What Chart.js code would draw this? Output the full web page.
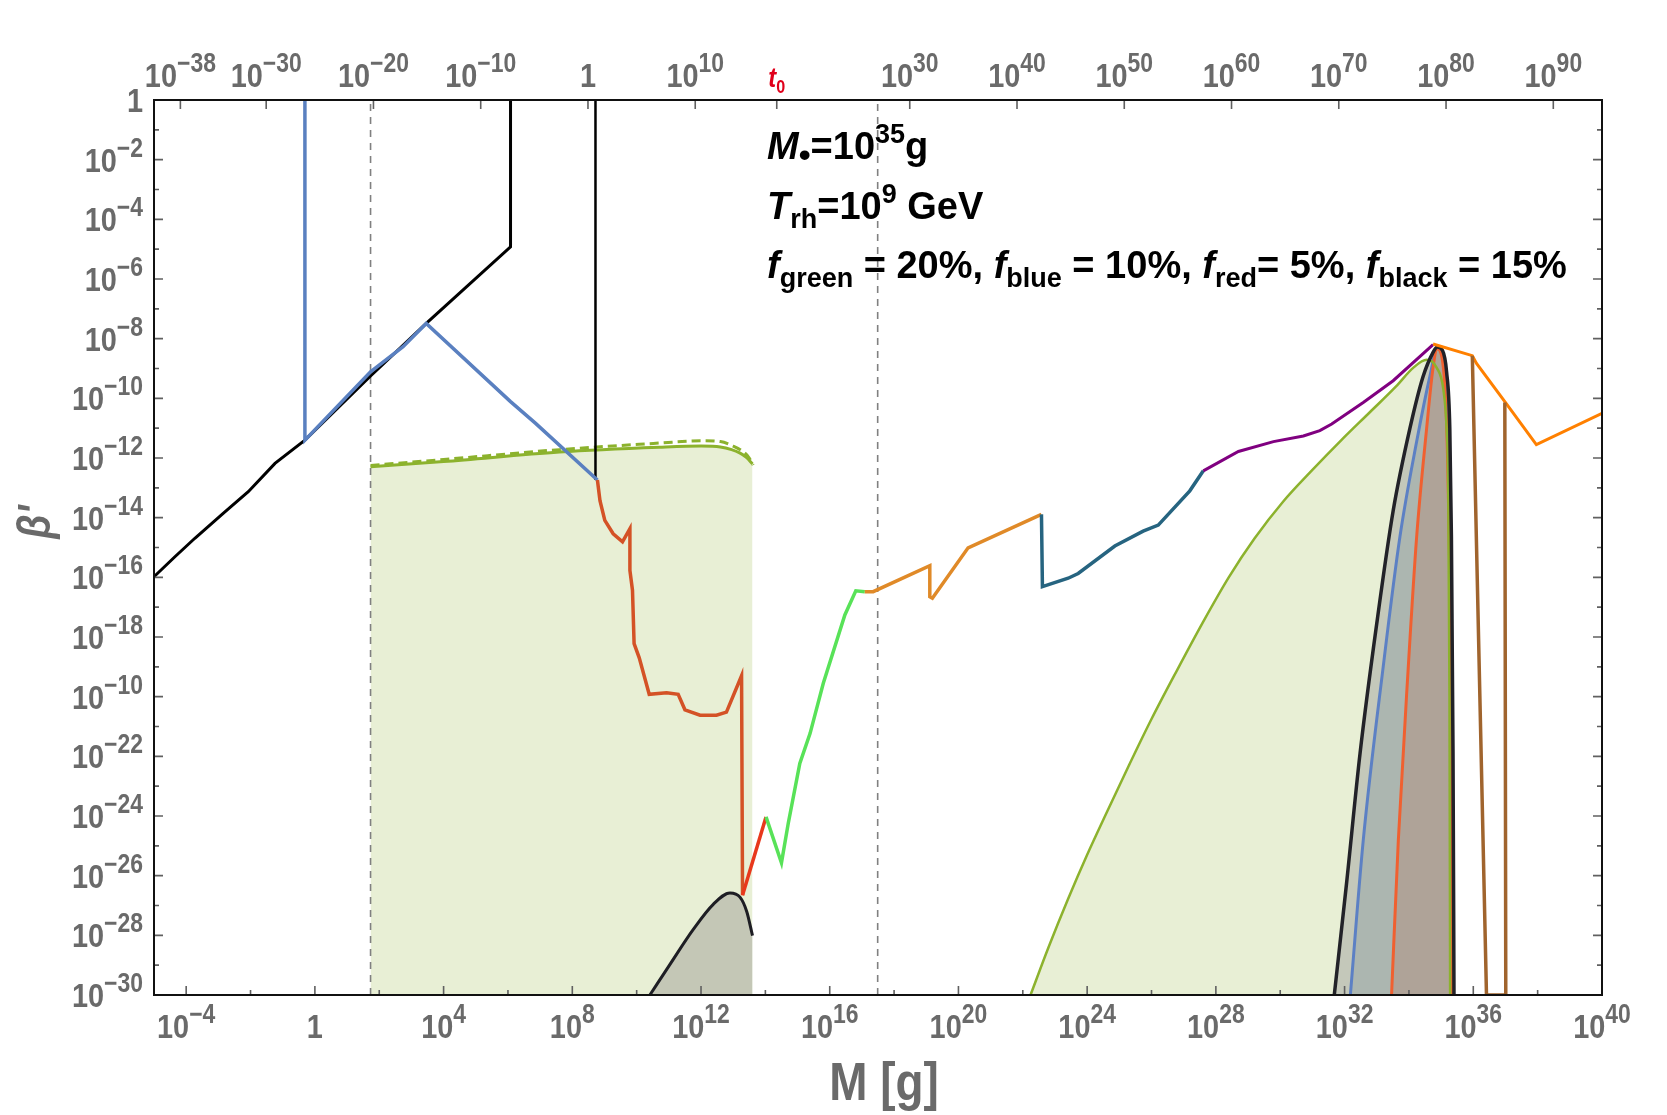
<!DOCTYPE html>
<html>
<head>
<meta charset="utf-8">
<script src="https://cdn.jsdelivr.net/npm/chart.js@4.4.1/dist/chart.umd.min.js"></script>
<style>
html,body{margin:0;padding:0;background:#fff;}
#wrap{width:1667px;height:1115px;}
</style>
</head>
<body>
<div id="wrap"><canvas id="c" width="1667" height="1115"></canvas></div>
<script>
// ---------------- axis ticks ----------------
const xTickExps = [-4, 0, 4, 8, 12, 16, 20, 24, 28, 32, 36, 40];
const xTickLabels = ['10^−4', '1', '10^4', '10^8', '10^12', '10^16', '10^20', '10^24', '10^28', '10^32', '10^36', '10^40'];
const xMinorTickExps = [-2, 2, 6, 10, 14, 18, 22, 26, 30, 34, 38];
const yTickExps = [0, -2, -4, -6, -8, -10, -12, -14, -16, -18, -20, -22, -24, -26, -28, -30];
const yTickLabels = ['1', '10^−2', '10^−4', '10^−6', '10^−8', '10^−10', '10^−12', '10^−14', '10^−16', '10^−18', '10^−10', '10^−22', '10^−24', '10^−26', '10^−28', '10^−30'];
const yMinorTickExps = [-1, -3, -5, -7, -9, -11, -13, -15, -17, -19, -21, -23, -25, -27, -29];
const topTickExps = [-38, -30, -20, -10, 0, 10, 17.6, 30, 40, 50, 60, 70, 80, 90];
const topTickLabels = ['10^−38', '10^−30', '10^−20', '10^−10', '1', '10^10', 't_0', '10^30', '10^40', '10^50', '10^60', '10^70', '10^80', '10^90'];
const topAxisMinExp = -40.46, topAxisMaxExp = 94.54;

// ---------------- series (log10 M [g], log10 beta') ----------------
const blackDiagM = [-5, -4.35, -3.73, -2.85, -2.07, -1.24, -0.31, 1.73, 3.46, 6.08, 6.08];
const blackDiagB = [-15.98, -15.31, -14.69, -13.86, -13.13, -12.18, -11.40, -9.25, -7.49, -4.92, 0];
const blackVertM = [8.72, 8.72];
const blackVertB = [0, -12.74];
const blueM = [-0.31, -0.31, 1.73, 2.74, 3.46, 6.08, 6.86, 8.78];
const blueB = [0, -11.40, -9.11, -8.27, -7.49, -10.11, -10.84, -12.74];
const greenSolidM = [1.73, 4.0, 7.6, 10.7, 12.0, 12.6, 12.95, 13.2, 13.41, 13.6];
const greenSolidB = [-12.29, -12.12, -11.8, -11.64, -11.6, -11.63, -11.72, -11.83, -11.98, -12.2];
const greenDashM = [1.73, 4.0, 7.6, 10.7, 12.0, 12.6, 13.0, 13.3, 13.5, 13.62];
const greenDashB = [-12.25, -12.05, -11.72, -11.5, -11.42, -11.45, -11.6, -11.78, -12.0, -12.24];
const redM = [8.78, 8.86, 9.01, 9.27, 9.56, 9.79, 9.79, 9.87, 9.92, 10.08, 10.39, 10.93, 11.29, 11.50, 11.97, 12.48, 12.79, 13.26, 13.29];
const redB = [-12.74, -13.43, -14.09, -14.54, -14.81, -14.37, -15.77, -16.43, -18.22, -18.70, -19.92, -19.87, -19.92, -20.44, -20.62, -20.62, -20.52, -19.30, -26.66];
const red2M = [13.29, 14.02];
const red2B = [-26.66, -24.03];
const brightGreenM = [14.02, 14.50, 14.71, 15.07, 15.39, 15.80, 16.47, 16.81, 17.09];
const brightGreenB = [-24.03, -25.57, -24.25, -22.24, -21.23, -19.55, -17.26, -16.45, -16.48];
const orangeM = [17.09, 17.35, 19.11, 19.11, 19.19, 20.30, 22.58];
const orangeB = [-16.48, -16.48, -15.61, -16.65, -16.70, -15.01, -13.89];
const tealM = [22.58, 22.61, 23.41, 23.72, 24.86, 25.74, 26.21, 27.19, 27.61];
const tealB = [-13.89, -16.31, -16.03, -15.87, -14.95, -14.45, -14.25, -13.10, -12.43];
const purpleM = [27.61, 28.70, 29.79, 30.72, 31.23, 31.60, 32.58, 33.51, 34.75];
const purpleB = [-12.43, -11.78, -11.45, -11.26, -11.08, -10.86, -10.14, -9.41, -8.20];
const orangeRightM = [34.75, 35.97, 36.10, 36.98, 37.96, 40.0];
const orangeRightB = [-8.18, -8.57, -8.83, -10.11, -11.55, -10.50];
const brownM = [35.97, 36.41, 37.01, 36.98];
const brownB = [-8.57, -30, -30, -10.14];
const bumpM = [10.41, 11.03, 11.76, 12.38, 12.90, 13.21, 13.42, 13.60];
const bumpB = [-30, -28.98, -27.80, -26.96, -26.58, -26.72, -27.2, -28.01];
const parabolaM = [22.24, 22.8, 23.4, 24.0, 24.6, 25.3, 26.0, 26.8, 27.6, 28.4, 29.2, 30.1, 31.0, 31.9, 32.8, 33.6, 34.14, 34.55, 34.86, 35.07, 35.17, 35.22, 35.26, 35.28];
const parabolaB = [-30, -28.4, -26.8, -25.3, -23.9, -22.3, -20.75, -19.1, -17.5, -16.0, -14.7, -13.45, -12.4, -11.4, -10.45, -9.6, -8.97, -8.71, -8.97, -9.70, -11.01, -13.0, -20.0, -30];
const peakBlackM = [31.68, 32.06, 32.48, 33.00, 33.51, 34.03, 34.44, 34.75, 34.88, 35.04, 35.17, 35.27, 35.32, 35.37, 35.40];
const peakBlackB = [-30, -26.27, -21.91, -17.55, -13.77, -11.01, -9.27, -8.46, -8.28, -8.39, -9.11, -11.01, -14.64, -21.91, -30];
const peakBlueM = [32.18, 32.58, 33.20, 33.72, 34.24, 34.65, 34.88, 35.07, 35.22, 35.30, 35.32];
const peakBlueB = [-30, -24.82, -19.0, -14.64, -11.45, -9.27, -8.35, -8.83, -11.73, -19.0, -30];
const peakRedM = [33.46, 33.67, 33.98, 34.24, 34.55, 34.75, 34.88, 35.07, 35.22, 35.32, 35.35];
const peakRedB = [-30, -24.82, -19.0, -14.64, -11.01, -8.97, -8.35, -8.97, -13.0, -21.9, -30];
const dashLineM = [1.73, 17.49];

// ---------------- helpers ----------------
const FAM = '"Liberation Sans", Arial, Helvetica, sans-serif';
const SX = 0.85;
const pts = (ms, bs) => ms.map((m, i) => ({ x: Math.pow(10, m), y: Math.pow(10, bs[i]) }));
function line(label, ms, bs, color, width, order, extra) {
  return Object.assign({
    label, data: pts(ms, bs), borderColor: color, borderWidth: width,
    pointRadius: 0, fill: false, tension: 0, order
  }, extra || {});
}
const BOTTOM = { value: 1e-30 };
const smooth = { cubicInterpolationMode: 'monotone' };

const datasets = [
  line('brown', brownM, brownB, 'rgb(160,100,45)', 3.5, 1),
  line('orange right', orangeRightM, orangeRightB, 'rgb(255,128,0)', 3, 1),
  line('purple', purpleM, purpleB, 'rgb(128,0,128)', 3, 1),
  line('teal', tealM, tealB, 'rgb(38,100,128)', 3.5, 1),
  line('orange', orangeM, orangeB, 'rgb(224,138,40)', 3.5, 1),
  line('bright green', brightGreenM, brightGreenB, 'rgb(88,226,88)', 3.5, 1),
  line('red', red2M, red2B, 'rgb(232,56,28)', 3.5, 1),
  line('orange-red', redM, redB, 'rgb(212,82,38)', 3.5, 1),
  line('blue', blueM, blueB, 'rgb(90,128,192)', 3.5, 2),
  line('black diagonal', blackDiagM, blackDiagB, '#000', 3, 3),
  line('black vertical', blackVertM, blackVertB, '#000', 2.5, 3),
  line('green band', greenSolidM, greenSolidB, 'rgb(140,178,45)', 3, 4, smooth),
  line('green band dashed', greenDashM, greenDashB, 'rgb(140,178,45)', 3, 4, Object.assign({ borderDash: [9, 5] }, smooth)),
  line('bump', bumpM, bumpB, 'rgb(30,30,36)', 3, 5, Object.assign({ fill: BOTTOM, backgroundColor: 'rgb(196,199,182)' }, smooth)),
  line('peak outline', peakBlackM, peakBlackB, 'rgb(34,34,40)', 3.5, 5, smooth),
  line('parabola line', parabolaM, parabolaB, 'rgb(140,178,45)', 2.5, 6, smooth),
  line('peak red', peakRedM, peakRedB, 'rgb(240,96,48)', 3, 7, Object.assign({ fill: BOTTOM, backgroundColor: 'rgb(175,163,152)' }, smooth)),
  line('peak blue', peakBlueM, peakBlueB, 'rgb(92,128,196)', 3, 8, Object.assign({ fill: BOTTOM, backgroundColor: 'rgb(172,182,176)' }, smooth)),
  line('peak black fill', peakBlackM, peakBlackB, 'rgba(0,0,0,0)', 0, 9, Object.assign({ fill: BOTTOM, backgroundColor: 'rgb(196,200,186)' }, smooth)),
  ...dashLineM.map(m => line('t line', [m, m], [-30, 0], 'rgb(128,128,128)', 1.6, 10, { borderDash: [7, 6] })),
  line('parabola fill', parabolaM, parabolaB, 'rgba(0,0,0,0)', 0, 11, Object.assign({ fill: BOTTOM, backgroundColor: 'rgb(232,239,213)' }, smooth)),
  line('green band fill', greenSolidM, greenSolidB, 'rgba(0,0,0,0)', 0, 12, Object.assign({ fill: BOTTOM, backgroundColor: 'rgb(232,239,213)' }, smooth))
];

// ---------------- rich text drawing ----------------
function font(size, italic) { return (italic ? 'italic ' : '') + 'bold ' + size + 'px ' + FAM; }
function segW(ctx, s) { ctx.font = s.font; return ctx.measureText(s.text).width * (s.sx || SX); }
function drawSegs(ctx, segs, x, y, align, color) {
  let w = 0;
  segs.forEach(s => { w += segW(ctx, s); });
  let cx = align === 'center' ? x - w / 2 : (align === 'right' ? x - w : x);
  segs.forEach(s => {
    ctx.font = s.font;
    ctx.fillStyle = s.color || color;
    ctx.save();
    ctx.translate(cx, y + (s.dy || 0));
    ctx.scale(s.sx || SX, 1);
    ctx.textAlign = 'left';
    ctx.textBaseline = 'alphabetic';
    ctx.fillText(s.text, 0, 0);
    ctx.restore();
    cx += segW(ctx, s);
  });
}
function tickSegs(label) {
  const i = label.indexOf('^');
  if (label.indexOf('_') >= 0) {
    const p = label.split('_');
    return [{ text: p[0], font: font(28, true), color: '#e0001b' }, { text: p[1], font: font(19, false), dy: 6, color: '#e0001b' }];
  }
  if (i < 0) return [{ text: label, font: font(34) }];
  return [{ text: label.slice(0, i), font: font(34) }, { text: label.slice(i + 1), font: font(27), dy: -15 }];
}
function ann(parts) {
  // parts: [text, kind] kind: n normal, i italic, b sub, p sup, d bullet
  return parts.map(([t, k]) => {
    if (k === 'i') return { text: t, font: font(38, true), sx: 1 };
    if (k === 'b') return { text: t, font: font(27), dy: 9, sx: 1 };
    if (k === 'd') return { text: t, font: font(34), dy: 7, sx: 1 };
    if (k === 'p') return { text: t, font: font(27), dy: -16, sx: 1 };
    return { text: t, font: font(38), sx: 1 };
  });
}

const decor = {
  id: 'decor',
  afterDatasetsDraw(chart) {
    const { ctx, chartArea: a, scales } = chart;
    const xs = scales.x, ys = scales.y, xt = scales.xTop;
    ctx.save();
    // ticks
    ctx.strokeStyle = '#606060';
    ctx.lineWidth = 1.6;
    ctx.beginPath();
    yTickExps.concat(yMinorTickExps).forEach(e => {
      const y = ys.getPixelForValue(Math.pow(10, e));
      const len = (yTickExps.indexOf(e) >= 0) ? 9 : 5;
      ctx.moveTo(a.left, y); ctx.lineTo(a.left + len, y);
      ctx.moveTo(a.right, y); ctx.lineTo(a.right - len, y);
    });
    xTickExps.concat(xMinorTickExps).forEach(e => {
      const x = xs.getPixelForValue(Math.pow(10, e));
      const len = (xTickExps.indexOf(e) >= 0) ? 9 : 5;
      ctx.moveTo(x, a.bottom); ctx.lineTo(x, a.bottom - len);
    });
    topTickExps.forEach(e => {
      const x = xt.getPixelForValue(Math.pow(10, e));
      ctx.moveTo(x, a.top); ctx.lineTo(x, a.top + 9);
    });
    ctx.stroke();
    // frame
    ctx.strokeStyle = '#111';
    ctx.lineWidth = 2;
    ctx.strokeRect(a.left, a.top, a.right - a.left, a.bottom - a.top);
    // tick labels
    const gray = '#6a6a6a';
    yTickExps.forEach((e, i) => {
      const y = ys.getPixelForValue(Math.pow(10, e));
      drawSegs(ctx, tickSegs(yTickLabels[i]), a.left - 11, y + 12, 'right', gray);
    });
    xTickExps.forEach((e, i) => {
      const x = xs.getPixelForValue(Math.pow(10, e));
      drawSegs(ctx, tickSegs(xTickLabels[i]), x, a.bottom + 43, 'center', gray);
    });
    topTickExps.forEach((e, i) => {
      const x = xt.getPixelForValue(Math.pow(10, e));
      drawSegs(ctx, tickSegs(topTickLabels[i]), x, a.top - 13, 'center', gray);
    });
    // axis titles
    drawSegs(ctx, [{ text: 'M [g]', font: font(54) }], (a.left + a.right) / 2 + 6, 1100, 'center', gray);
    ctx.save();
    ctx.translate(50, 522);
    ctx.rotate(-Math.PI / 2);
    drawSegs(ctx, [{ text: 'β\'', font: font(46, true) }], 0, 0, 'center', gray);
    ctx.restore();
    // annotation
    const k = '#000';
    drawSegs(ctx, ann([['M', 'i'], ['•', 'd'], ['=10', 'n'], ['35', 'p'], ['g', 'n']]), 767, 159, 'left', k);
    drawSegs(ctx, ann([['T', 'i'], ['rh', 'b'], ['=10', 'n'], ['9', 'p'], [' GeV', 'n']]), 767, 219, 'left', k);
    drawSegs(ctx, ann([
      ['f', 'i'], ['green', 'b'], [' = 20%, ', 'n'],
      ['f', 'i'], ['blue', 'b'], [' = 10%, ', 'n'],
      ['f', 'i'], ['red', 'b'], ['= 5%, ', 'n'],
      ['f', 'i'], ['black', 'b'], [' = 15%', 'n']
    ]), 767, 278, 'left', k);
    ctx.restore();
  }
};

new Chart(document.getElementById('c'), {
  type: 'line',
  data: { datasets },
  options: {
    responsive: false,
    devicePixelRatio: 1,
    animation: false,
    events: [],
    layout: { padding: { left: 154, right: 65, top: 100, bottom: 120 } },
    plugins: { legend: { display: false }, tooltip: { enabled: false } },
    scales: {
      x: { type: 'logarithmic', min: 1e-5, max: 1e40, display: false },
      y: { type: 'logarithmic', min: 1e-30, max: 1, display: false },
      xTop: { type: 'logarithmic', axis: 'x', position: 'top', min: Math.pow(10, topAxisMinExp), max: Math.pow(10, topAxisMaxExp), display: false }
    }
  },
  plugins: [decor]
});
</script>
</body>
</html>
